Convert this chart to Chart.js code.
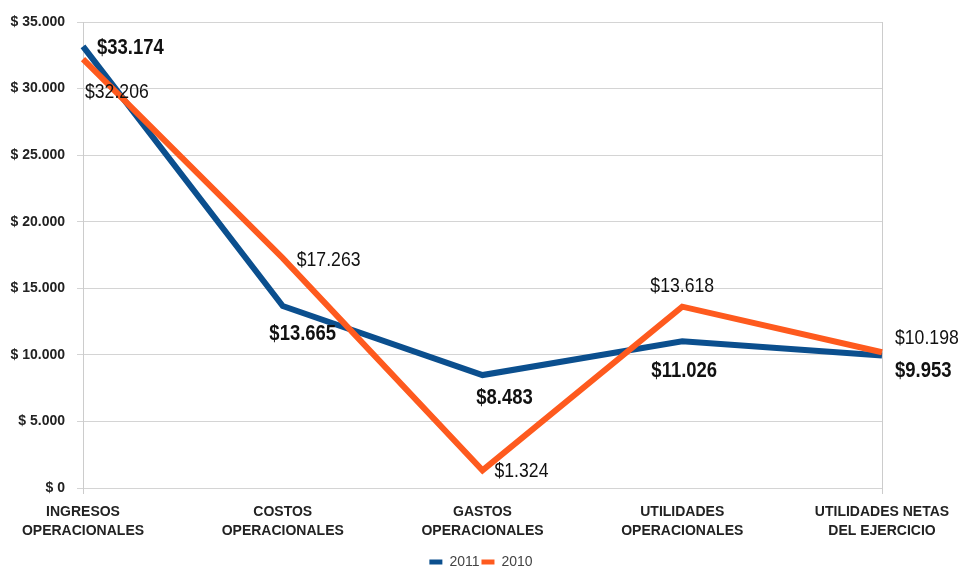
<!DOCTYPE html>
<html>
<head>
<meta charset="utf-8">
<script src="https://cdn.jsdelivr.net/npm/chart.js@4.4.1/dist/chart.umd.min.js"></script>
<style>
  html, body { margin: 0; padding: 0; background: #fff; }
  #wrap { width: 962px; height: 570px; }
</style>
</head>
<body>
<div id="wrap"><canvas id="chart"></canvas></div>
<script>
const categories = [
    ["INGRESOS", "OPERACIONALES"],
    ["COSTOS", "OPERACIONALES"],
    ["GASTOS", "OPERACIONALES"],
    ["UTILIDADES", "OPERACIONALES"],
    ["UTILIDADES NETAS", "DEL EJERCICIO"]
]
const values2011 = [33174, 13665, 8483, 11026, 9953]
const values2010 = [32206, 17263, 1324, 13618, 10198]
const seriesNames = ["2011", "2010"]

const BLUE = "#0b4f8e"
const ORANGE = "#fe5a1e"

function miles(v) {
    return String(v).replace(/\B(?=(\d{3})+(?!\d))/g, ".")
}

// where each value label sits, relative to its point
const labelSpots = [
    [[14, 2, "left"], [20, 28, "center"], [22, 23, "center"], [2, 30, "center"], [13, 15, "left"]],
    [[2, 33, "left"], [14, 2, "left"], [12, 1, "left"], [0, -20, "center"], [13, -14, "left"]]
]

const valueLabels = {
    id: "valueLabels",
    afterDatasetsDraw(chart) {
        const ctx = chart.ctx
        chart.data.datasets.forEach((ds, di) => {
            const meta = chart.getDatasetMeta(di)
            meta.data.forEach((pt, i) => {
                const s = labelSpots[di][i]
                ctx.save()
                // the original uses a narrow face, squeeze the text a bit
                ctx.translate(pt.x + s[0], pt.y + s[1])
                ctx.scale(0.84, 1)
                ctx.font = (di === 0 ? "bold 22px" : "21px") + " 'Liberation Sans', Arial, sans-serif"
                ctx.fillStyle = "#111"
                ctx.textBaseline = "middle"
                ctx.textAlign = s[2]
                ctx.fillText("$" + miles(ds.data[i]), 0, 0)
                ctx.restore()
            })
        })
    }
}

const tickFont = { family: "'Liberation Sans', Arial, sans-serif", size: 14, weight: "bold", lineHeight: 1.4 }

new Chart(document.getElementById("chart"), {
    type: "line",
    data: {
        labels: categories,
        datasets: [
            {
                label: seriesNames[0],
                data: values2011,
                borderColor: BLUE,
                backgroundColor: BLUE,
                borderWidth: 6,
                pointRadius: 0,
                tension: 0,
                order: 1
            },
            {
                label: seriesNames[1],
                data: values2010,
                borderColor: ORANGE,
                backgroundColor: ORANGE,
                borderWidth: 6,
                pointRadius: 0,
                tension: 0,
                order: 0
            }
        ]
    },
    options: {
        responsive: true,
        maintainAspectRatio: false,
        animation: false,
        layout: { padding: { left: 0, right: 0, top: 22, bottom: -9 } },
        scales: {
            x: {
                offset: false,
                grid: {
                    display: true,
                    color: (c) => (c.index === 0 || c.index === 4) ? "#cccccc" : "rgba(0,0,0,0)",
                    tickLength: 6
                },
                border: { display: false },
                ticks: {
                    color: "#222",
                    font: tickFont,
                    padding: 8,
                    maxRotation: 0,
                    autoSkip: false
                },
                afterFit(scale) { scale.height = 65 }
            },
            y: {
                min: 0,
                max: 35000,
                grid: { color: "#d4d4d4", tickLength: 6 },
                border: { display: true, color: "#cccccc" },
                ticks: {
                    stepSize: 5000,
                    color: "#222",
                    padding: 12,
                    font: tickFont,
                    callback: (v) => "$ " + miles(v)
                },
                afterFit(scale) { scale.width = 83 }
            },
            // empty right side so the legend centres on the whole picture
            yRight: {
                position: "right",
                min: 0,
                max: 35000,
                grid: { display: false },
                border: { display: false },
                ticks: { display: false },
                afterFit(scale) { scale.width = 80 }
            }
        },
        plugins: {
            legend: {
                position: "bottom",
                labels: {
                    boxWidth: 13,
                    boxHeight: 5,
                    padding: 2,
                    color: "#444",
                    font: { family: "'Liberation Sans', Arial, sans-serif", size: 14 },
                    sort: (a, b) => a.datasetIndex - b.datasetIndex,
                    generateLabels: (chart) =>
                        Chart.defaults.plugins.legend.labels.generateLabels(chart).map(l => ({ ...l, lineWidth: 0 }))
                }
            },
            tooltip: { enabled: false }
        }
    },
    plugins: [valueLabels]
})
</script>
</body>
</html>
